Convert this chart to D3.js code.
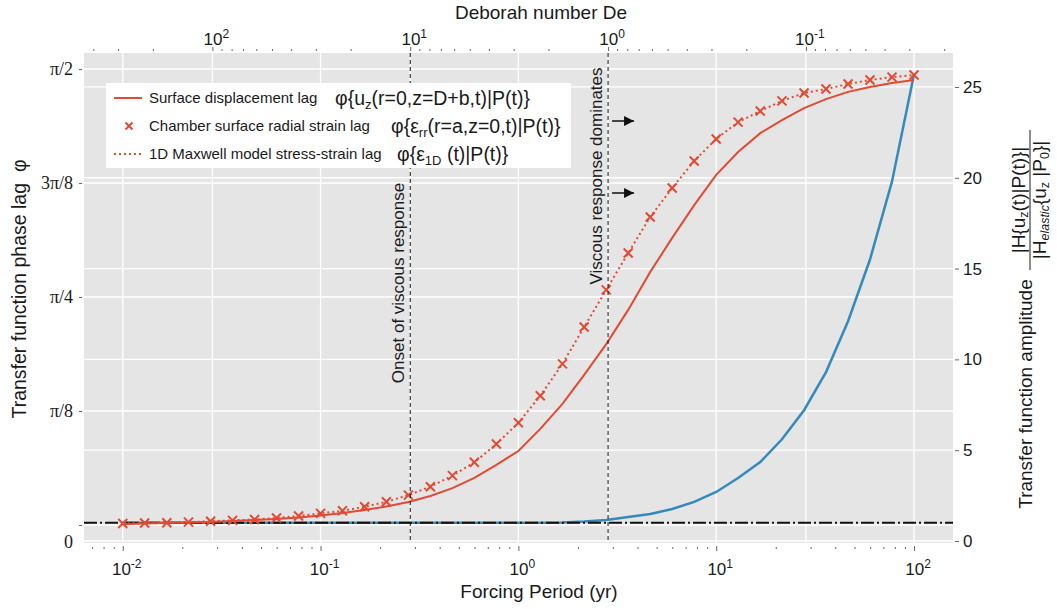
<!DOCTYPE html>
<html>
<head>
<meta charset="utf-8">
<script src="https://cdn.jsdelivr.net/npm/d3@7"></script>
<style>
body { margin: 0; background: white; }
text { font-family: "Liberation Sans", Arial, sans-serif; fill: #1a1a1a; }
</style>
</head>
<body>
<div id="display"></div>
<script>
// forcing periods (yr), 9 per decade
const periods = [0.01, 0.0129, 0.0167, 0.0215, 0.0278, 0.0359, 0.0464, 0.0599, 0.0774,
    0.1, 0.129, 0.167, 0.215, 0.278, 0.359, 0.464, 0.599, 0.774,
    1, 1.29, 1.67, 2.15, 2.78, 3.59, 4.64, 5.99, 7.74,
    10, 12.9, 16.7, 21.5, 27.8, 35.9, 46.4, 59.9, 77.4, 100];

// phase lags (rad)
const surfaceLag = [0.003, 0.005, 0.007, 0.009, 0.010, 0.014, 0.017, 0.021, 0.026,
    0.033, 0.041, 0.052, 0.064, 0.079, 0.100, 0.127, 0.162, 0.207,
    0.255, 0.331, 0.417, 0.517, 0.623, 0.741, 0.872, 0.989, 1.102,
    1.206, 1.285, 1.350, 1.395, 1.436, 1.467, 1.492, 1.509, 1.523, 1.533];
const strainLag = [0.005, 0.007, 0.008, 0.010, 0.013, 0.016, 0.019, 0.024, 0.031,
    0.040, 0.049, 0.063, 0.080, 0.103, 0.132, 0.170, 0.216, 0.279,
    0.352, 0.445, 0.555, 0.682, 0.810, 0.937, 1.061, 1.161, 1.254,
    1.330, 1.388, 1.426, 1.461, 1.488, 1.502, 1.519, 1.533, 1.543, 1.550];
const maxwellLag = strainLag;

// amplitude ratio (right axis)
const amplitude = [1.0, 1.0, 1.0, 1.0, 1.0, 1.0, 1.0, 1.0, 1.0,
    1.0, 1.0, 1.0, 1.0, 1.0, 1.0, 1.0, 1.0, 1.0,
    1.0, 1.01, 1.02, 1.07, 1.16, 1.32, 1.49, 1.76, 2.15,
    2.7, 3.47, 4.35, 5.6, 7.2, 9.3, 12.1, 15.5, 19.8, 25.7];

const elasticLevel = 1;

const phaseTicks = [0, Math.PI / 8, Math.PI / 4, 3 * Math.PI / 8, Math.PI / 2];
const phaseTickLabels = ['0', 'π/8', 'π/4', '3π/8', 'π/2'];
const ampTicks = [0, 5, 10, 15, 20, 25];
const periodTicks = [0.01, 0.1, 1, 10, 100];
const periodTickExp = ['-2', '-1', '0', '1', '2'];
const deborahTicks = [100, 10, 1, 0.1];
const deborahTickExp = ['2', '1', '0', '-1'];
const relaxTime = 2.84;          // De = relaxTime / period
const annotDe = [10, 1];          // dashed lines

const red = '#E24A33';
const blue = '#348ABD';

const svg = d3.select('#display')
    .append('svg')
    .attr('width', 1057)
    .attr('height', 609);

const L = 84, R = 953, T = 53, B = 543;

const x = d3.scaleLog().domain([0.00637, 157.4]).range([L, R]);
const xDe = d3.scaleLog().domain([relaxTime / 0.00637, relaxTime / 157.4]).range([L, R]);
const yPhase = d3.scaleLinear().domain([-0.062, 1.626]).range([B, T]);
const yAmp = d3.scaleLinear().domain([-0.11, 26.87]).range([B, T]);

// background
svg.append('rect')
    .attr('x', L).attr('y', T)
    .attr('width', R - L).attr('height', B - T)
    .attr('fill', '#E5E5E5');

// grid
const grid = svg.append('g').attr('stroke', 'white').attr('stroke-width', 1.3);
phaseTicks.forEach(d => grid.append('line')
    .attr('x1', L).attr('x2', R).attr('y1', yPhase(d)).attr('y2', yPhase(d)));
ampTicks.forEach(d => grid.append('line')
    .attr('x1', L).attr('x2', R).attr('y1', yAmp(d)).attr('y2', yAmp(d)));
periodTicks.forEach(d => grid.append('line')
    .attr('x1', x(d)).attr('x2', x(d)).attr('y1', T).attr('y2', B));
deborahTicks.forEach(d => grid.append('line')
    .attr('x1', xDe(d)).attr('x2', xDe(d)).attr('y1', T).attr('y2', B));

// minor tick values
function minors(lo, hi) {
    const out = [];
    for (let e = lo; e <= hi; e++) {
        for (let m = 2; m <= 9; m++) out.push(m * Math.pow(10, e));
    }
    return out;
}
const periodMinor = minors(-3, 2).filter(d => d > 0.00637 && d < 157.4);
const deMinor = minors(-2, 2).filter(d => d < relaxTime / 0.00637 && d > relaxTime / 157.4);

// axes
const leftAxis = svg.append('g')
    .attr('transform', `translate(${L - 2},0)`)
    .call(d3.axisLeft(yPhase).tickValues(phaseTicks)
        .tickFormat((d, i) => phaseTickLabels[i]).tickSize(3).tickPadding(6));
leftAxis.selectAll('text')
    .style('font-family', '"Liberation Serif", "Times New Roman", serif')
    .style('font-size', '18px').attr('fill', '#1a1a1a');
leftAxis.selectAll('.tick').filter(d => d === 0).select('text').attr('dy', '1.25em');

const rightAxis = svg.append('g')
    .attr('transform', `translate(${R + 2},0)`)
    .call(d3.axisRight(yAmp).tickValues(ampTicks).tickSize(4).tickPadding(4));
rightAxis.selectAll('text').style('font-size', '17px').attr('fill', '#1a1a1a');

svg.append('g')
    .attr('transform', `translate(0,${B + 3})`)
    .call(d3.axisBottom(x).tickValues(periodTicks).tickFormat('').tickSize(5));
svg.append('g')
    .attr('transform', `translate(0,${B + 4})`)
    .call(d3.axisBottom(x).tickValues(periodMinor).tickFormat('').tickSize(2));

svg.append('g')
    .attr('transform', `translate(0,${T - 2})`)
    .call(d3.axisTop(xDe).tickValues(deborahTicks).tickFormat('').tickSize(4));
svg.append('g')
    .attr('transform', `translate(0,${T - 2})`)
    .call(d3.axisTop(xDe).tickValues(deMinor).tickFormat('').tickSize(2));

svg.selectAll('.domain').remove();
svg.selectAll('.tick line').attr('stroke', '#666');

function powerLabel(g, px, py, exp) {
    const t = g.append('text')
        .attr('x', px).attr('y', py)
        .attr('text-anchor', 'middle')
        .style('font-size', '17px');
    t.append('tspan').text('10');
    t.append('tspan').attr('dy', -7).style('font-size', '12px').text(exp);
}
periodTicks.forEach((d, i) => powerLabel(svg, x(d) + 4, 575, periodTickExp[i]));
deborahTicks.forEach((d, i) => powerLabel(svg, xDe(d) + 4, 45, deborahTickExp[i]));

// axis titles
svg.append('text')
    .attr('x', 539).attr('y', 598)
    .attr('text-anchor', 'middle')
    .style('font-size', '19px')
    .text('Forcing Period (yr)');
svg.append('text')
    .attr('x', 541).attr('y', 19)
    .attr('text-anchor', 'middle')
    .style('font-size', '19px')
    .text('Deborah number De');
svg.append('text')
    .attr('transform', 'translate(26,289) rotate(-90)')
    .attr('text-anchor', 'middle')
    .style('font-size', '19.5px')
    .text('Transfer function phase lag \u00a0φ');
svg.append('text')
    .attr('transform', 'translate(1032,394) rotate(-90)')
    .attr('text-anchor', 'middle')
    .style('font-size', '19px')
    .text('Transfer function amplitude');

// fraction on right
const frac = svg.append('g').attr('transform', 'translate(1030,200) rotate(-90)');
const num = frac.append('text').attr('x', 0).attr('y', -5)
    .attr('text-anchor', 'middle').style('font-size', '19px');
num.append('tspan').text('|H{u');
num.append('tspan').attr('dy', 3).style('font-size', '12.5px').text('z');
num.append('tspan').attr('dy', -3).text('(t)|P(t)}|');
frac.append('line')
    .attr('x1', -70).attr('x2', 70).attr('y1', 0).attr('y2', 0)
    .attr('stroke', '#1a1a1a').attr('stroke-width', 1);
const den = frac.append('text').attr('x', 0).attr('y', 16)
    .attr('text-anchor', 'middle').style('font-size', '19px');
den.append('tspan').text('|H');
den.append('tspan').attr('dy', 3).style('font-size', '12.5px').style('font-style', 'italic').text('elastic');
den.append('tspan').attr('dy', -3).text('{u');
den.append('tspan').attr('dy', 3).style('font-size', '12.5px').text('z');
den.append('tspan').attr('dy', -3).text(' |P');
den.append('tspan').attr('dy', 3).style('font-size', '12.5px').text('0');
den.append('tspan').attr('dy', -3).text('}|');

// clip for data
svg.append('clipPath').attr('id', 'plotclip')
    .append('rect').attr('x', L).attr('y', T).attr('width', R - L).attr('height', B - T);
const plot = svg.append('g').attr('clip-path', 'url(#plotclip)');

// amplitude curve
const ampLine = d3.line().x((d, i) => x(periods[i])).y(d => yAmp(d));
plot.append('path')
    .datum(amplitude)
    .attr('d', ampLine)
    .attr('fill', 'none')
    .attr('stroke', blue)
    .attr('stroke-width', 2.5);

// elastic reference
plot.append('line')
    .attr('x1', L).attr('x2', R)
    .attr('y1', yAmp(elasticLevel)).attr('y2', yAmp(elasticLevel))
    .attr('stroke', '#111')
    .attr('stroke-width', 2)
    .attr('stroke-dasharray', '13,3,2,3');

// phase curves
const phaseLine = d3.line().x((d, i) => x(periods[i])).y(d => yPhase(d));
plot.append('path')
    .datum(surfaceLag)
    .attr('d', phaseLine)
    .attr('fill', 'none')
    .attr('stroke', red)
    .attr('stroke-width', 2);
plot.append('path')
    .datum(maxwellLag)
    .attr('d', phaseLine)
    .attr('fill', 'none')
    .attr('stroke', red)
    .attr('stroke-width', 2)
    .attr('stroke-dasharray', '2,3');

function cross(g, cx, cy, s) {
    g.append('path')
        .attr('d', `M${cx - s},${cy - s}L${cx + s},${cy + s}M${cx - s},${cy + s}L${cx + s},${cy - s}`)
        .attr('stroke', red)
        .attr('stroke-width', 2)
        .attr('fill', 'none');
}
strainLag.forEach((d, i) => cross(svg, x(periods[i]), yPhase(d), 4.5));

// dashed De lines
annotDe.forEach(d => svg.append('line')
    .attr('x1', xDe(d)).attr('x2', xDe(d)).attr('y1', T).attr('y2', B)
    .attr('stroke', '#111').attr('stroke-width', 1)
    .attr('stroke-dasharray', '4,3'));

svg.append('text')
    .attr('transform', `translate(${xDe(10) - 6},283) rotate(-90)`)
    .attr('text-anchor', 'middle')
    .style('font-size', '17px')
    .text('Onset of viscous response');
svg.append('text')
    .attr('transform', `translate(${xDe(1) - 6},176) rotate(-90)`)
    .attr('text-anchor', 'middle')
    .style('font-size', '17px')
    .text('Viscous response dominates');

// arrows
svg.append('defs').append('marker')
    .attr('id', 'head')
    .attr('viewBox', '0 0 10 10')
    .attr('refX', 10).attr('refY', 5)
    .attr('markerWidth', 10).attr('markerHeight', 10)
    .attr('markerUnits', 'userSpaceOnUse')
    .attr('orient', 'auto')
    .append('path').attr('d', 'M0,0L10,5L0,10Z').attr('fill', '#111');
[121, 193].forEach(yy => svg.append('line')
    .attr('x1', xDe(1) + 4).attr('x2', xDe(1) + 26)
    .attr('y1', yy).attr('y2', yy)
    .attr('stroke', '#111').attr('stroke-width', 1.5)
    .attr('marker-end', 'url(#head)'));

// legend
const lg = svg.append('g');
lg.append('rect')
    .attr('x', 106).attr('y', 83).attr('width', 465).attr('height', 85)
    .attr('fill', 'white');
const rows = [98, 126, 154];
lg.append('line').attr('x1', 114).attr('x2', 142).attr('y1', rows[0]).attr('y2', rows[0])
    .attr('stroke', red).attr('stroke-width', 2);
cross(lg, 129, rows[1], 3.5);
lg.append('line').attr('x1', 114).attr('x2', 142).attr('y1', rows[2]).attr('y2', rows[2])
    .attr('stroke', red).attr('stroke-width', 2).attr('stroke-dasharray', '2,3');

const names = ['Surface displacement lag', 'Chamber surface radial strain lag', '1D Maxwell model stress-strain lag'];
names.forEach((n, i) => lg.append('text')
    .attr('x', 149).attr('y', rows[i] + 5)
    .style('font-size', '15px')
    .text(n));

function mathText(px, py, parts) {
    const t = lg.append('text').attr('x', px).attr('y', py).style('font-size', '19.5px');
    parts.forEach(p => {
        const s = t.append('tspan').text(p[0]);
        if (p[1] === 'sub') s.attr('dy', 4).style('font-size', '13px');
        if (p[1] === 'up') s.attr('dy', -4);
    });
}
mathText(335, rows[0] + 7, [['φ{u'], ['z', 'sub'], ['(r=0,z=D+b,t)|P(t)}', 'up']]);
mathText(391, rows[1] + 7, [['φ{ε'], ['rr', 'sub'], ['(r=a,z=0,t)|P(t)}', 'up']]);
mathText(397, rows[2] + 7, [['φ{ε'], ['1D', 'sub'], [' (t)|P(t)}', 'up']]);
</script>
</body>
</html>
